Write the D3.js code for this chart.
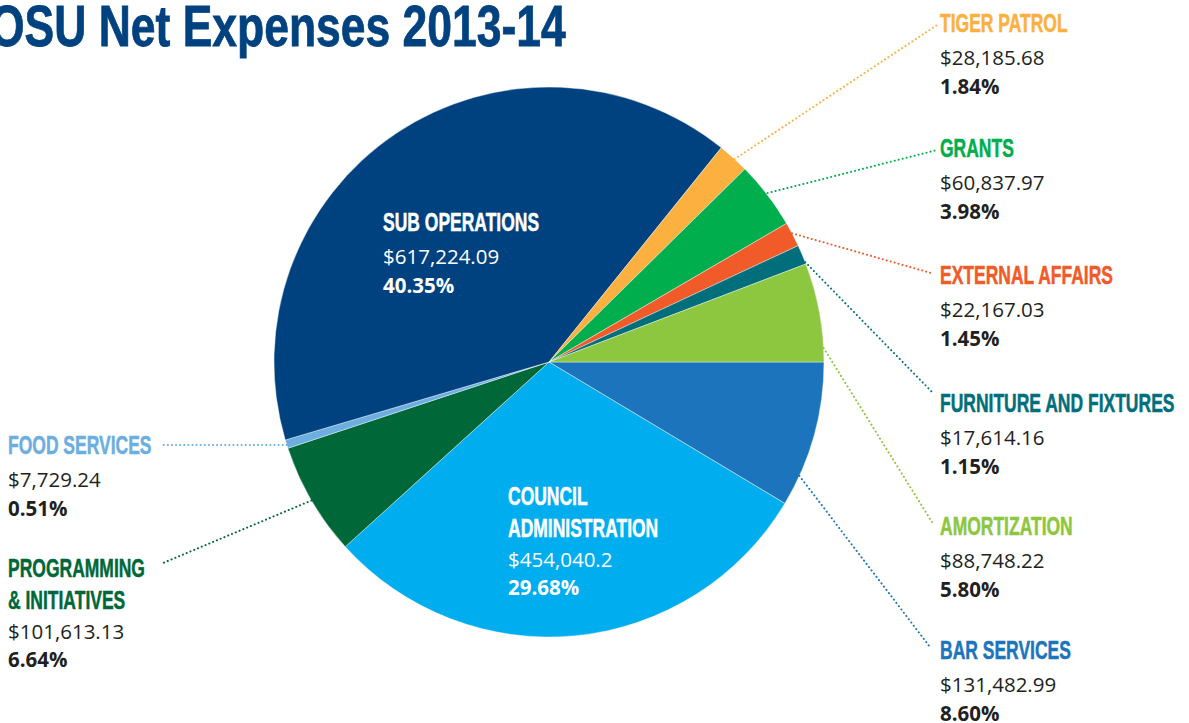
<!DOCTYPE html>
<html>
<head>
<meta charset="utf-8">
<script src="https://cdn.jsdelivr.net/npm/d3@7"></script>
<style>
  html, body { margin: 0; padding: 0; background: #fff; overflow: hidden; }
  svg { display: block; }
</style>
</head>
<body>
<svg id="chart" width="1189" height="723"></svg>
<script>
// categories in clockwise order, starting at 3 o'clock
const categories = ["BAR SERVICES", "COUNCIL ADMINISTRATION", "PROGRAMMING & INITIATIVES", "FOOD SERVICES",
  "SUB OPERATIONS", "TIGER PATROL", "GRANTS", "EXTERNAL AFFAIRS", "FURNITURE AND FIXTURES", "AMORTIZATION"];
const amounts = [131482.99, 454040.2, 101613.13, 7729.24, 617224.09, 28185.68, 60837.97, 22167.03, 17614.16, 88748.22];
const amountLabels = ["$131,482.99", "$454,040.2", "$101,613.13", "$7,729.24", "$617,224.09", "$28,185.68",
  "$60,837.97", "$22,167.03", "$17,614.16", "$88,748.22"];
const percentLabels = ["8.60%", "29.68%", "6.64%", "0.51%", "40.35%", "1.84%", "3.98%", "1.45%", "1.15%", "5.80%"];
const colors = ["#1c75bc", "#00aeef", "#006838", "#6caee0", "#00427f", "#fbb040", "#00ae4d", "#f15a29", "#006f7b", "#8dc63f"];

// label layout: title lines, x, first baseline, leader (t within slice, radius factor, end point)
const layout = [
  { lines: ["BAR SERVICES"], x: 940, y: 659, t: 0.79, rf: 1.0, ex: 930, ey: 647 },
  { lines: ["COUNCIL", "ADMINISTRATION"], x: 508, y: 505, inside: true },
  { lines: ["PROGRAMMING", "& INITIATIVES"], x: 8, y: 577, t: 0.5, rf: 1.0, ex: 163, ey: 563 },
  { lines: ["FOOD SERVICES"], x: 8, y: 454, t: 0.4, rf: 1.0, ex: 163, ey: 445 },
  { lines: ["SUB OPERATIONS"], x: 383, y: 231, inside: true },
  { lines: ["TIGER PATROL"], x: 940, y: 32, t: 0.55, rf: 1.0, ex: 937, ey: 25 },
  { lines: ["GRANTS"], x: 940, y: 157, t: 0.38, rf: 0.95, ex: 937, ey: 150 },
  { lines: ["EXTERNAL AFFAIRS"], x: 940, y: 284, t: 0.45, rf: 1.0, ex: 931, ey: 273 },
  { lines: ["FURNITURE AND FIXTURES"], x: 940, y: 412, t: 0.9, rf: 1.0, ex: 932, ey: 392 },
  { lines: ["AMORTIZATION"], x: 940, y: 535, t: 0.86, rf: 1.0, ex: 932, ey: 522 }
];

const svg = d3.select("#chart");
const cx = 549, cy = 362, radius = 275;
const condensed = "'Liberation Sans', Arial, sans-serif";
const body = "'Open Sans', 'Noto Sans', sans-serif";

// title
svg.append("text")
  .attr("transform", "translate(-10,46) scale(0.78,1)")
  .attr("font-family", condensed).attr("font-weight", "bold").attr("font-size", 57)
  .attr("fill", "#00427f").attr("stroke", "#00427f").attr("stroke-width", 0.8)
  .text("OSU Net Expenses 2013-14");

const pie = d3.pie().sort(null).value(d => d)
  .startAngle(Math.PI / 2).endAngle(Math.PI / 2 + 2 * Math.PI);
const arcs = pie(amounts);
const arc = d3.arc().innerRadius(0).outerRadius(radius);

const g = svg.append("g").attr("transform", `translate(${cx},${cy})`);
g.selectAll("path.slice").data(arcs).enter().append("path")
  .attr("class", "slice")
  .attr("d", arc)
  .attr("fill", (d, i) => colors[i])
  .attr("stroke", "#fff").attr("stroke-width", 0.4);

// leader lines
layout.forEach((L, i) => {
  if (L.inside) return;
  const a = arcs[i].startAngle + (arcs[i].endAngle - arcs[i].startAngle) * L.t;
  const r = radius * L.rf;
  const sx = cx + r * Math.sin(a), sy = cy - r * Math.cos(a);
  svg.append("line")
    .attr("x1", sx).attr("y1", sy).attr("x2", L.ex).attr("y2", L.ey)
    .attr("stroke", colors[i]).attr("stroke-width", 2)
    .attr("stroke-dasharray", "0.1 4").attr("stroke-linecap", "round");
});

// labels
layout.forEach((L, i) => {
  const titleFill = L.inside ? "#fff" : colors[i];
  const textFill = L.inside ? "#fff" : "#231f20";
  let y = L.y;
  L.lines.forEach((line, k) => {
    if (k > 0) y += 32;
    svg.append("text")
      .attr("transform", `translate(${L.x},${y}) scale(0.7,1)`)
      .attr("font-family", condensed).attr("font-weight", "bold").attr("font-size", 25)
      .attr("fill", titleFill).attr("stroke", titleFill).attr("stroke-width", 0.5)
      .text(line);
  });
  const two = L.lines.length > 1;
  y += two ? 30 : 33;
  svg.append("text")
    .attr("x", L.x).attr("y", y)
    .attr("font-family", body).attr("font-size", 20.5)
    .attr("fill", textFill)
    .text(amountLabels[i]);
  y += two ? 28 : 29;
  svg.append("text")
    .attr("x", L.x).attr("y", y)
    .attr("font-family", body).attr("font-weight", "bold").attr("font-size", 20.5)
    .attr("fill", textFill)
    .text(percentLabels[i]);
});
</script>
</body>
</html>
